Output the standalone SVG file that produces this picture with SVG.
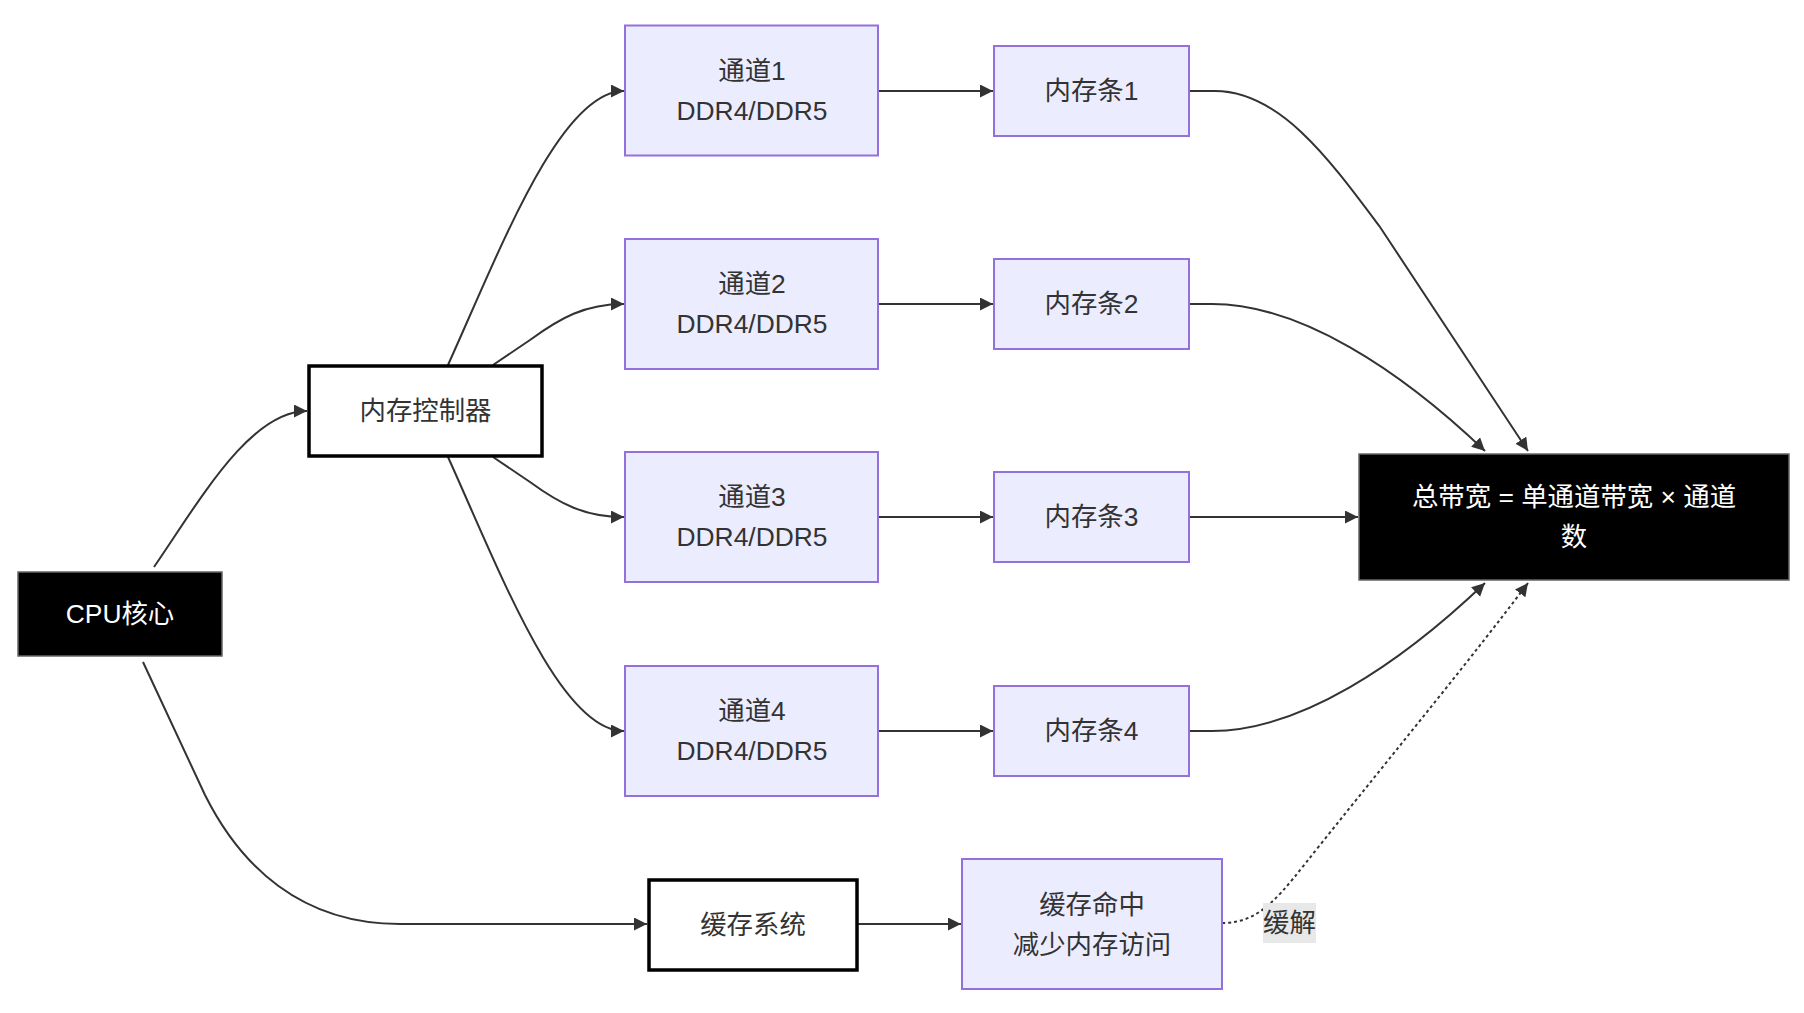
<svg xmlns="http://www.w3.org/2000/svg" width="1804" height="1013" viewBox="0 0 1804 1013">
<style>
text{font-family:"Liberation Sans","Noto Sans CJK SC",sans-serif;font-size:26.4px;fill:#333;text-anchor:middle;dominant-baseline:central}
.ch{fill:#ECECFF;stroke:#9370DB;stroke-width:2}
.wb{fill:#fff;stroke:#000;stroke-width:3.5}
.bb{fill:#000;stroke:#666;stroke-width:1.5}
.wt{fill:#fff}
.e{fill:none;stroke:#333;stroke-width:2;marker-end:url(#arr)}
.d{stroke-dasharray:3 3}
</style>
<defs>
<marker id="arr" markerUnits="userSpaceOnUse" markerWidth="14" markerHeight="14" refX="13" refY="6.5" orient="auto">
<path d="M0,0 L13,6.5 L0,13 z" fill="#333"/>
</marker>
</defs>
<rect width="1804" height="1013" fill="#fff"/>
<g id="edges">
<path class="e" d="M154,567 C200,500 250,411 307,411"/>
<path class="e" d="M143,662 L205,795 C240,865 300,924 400,924 L647,924"/>
<path class="e" d="M448,365 C500,250 560,91 624,91"/>
<path class="e" d="M493,365 L530,340 C560,318 585,304 624,304"/>
<path class="e" d="M493,457 L530,482 C560,504 585,517 624,517"/>
<path class="e" d="M448,457 C500,572 560,731 624,731"/>
<path class="e" d="M878,91 L993,91"/>
<path class="e" d="M878,304 L993,304"/>
<path class="e" d="M878,517 L993,517"/>
<path class="e" d="M878,731 L993,731"/>
<path class="e" d="M857,924 L961,924"/>
<path class="e" d="M1189,91 L1215,91 C1280,91 1330,160 1380,227 L1528,451"/>
<path class="e" d="M1189,304 L1212,304 C1300,304 1400,370 1485,451"/>
<path class="e" d="M1189,517 L1358,517"/>
<path class="e" d="M1189,731 L1212,731 C1300,731 1400,664 1485,583"/>
<path class="e d" d="M1222,923 C1262,923 1280,895 1320,845 C1400,745 1470,660 1528,583"/>
</g>
<g id="edge-label">
<rect x="1263" y="903" width="53" height="40" fill="#e8e8e8"/>
<text x="1289.5" y="923">缓解</text>
</g>
<g id="cpu">
<rect class="bb" x="18" y="572" width="204" height="84"/>
<text class="wt" x="120" y="614">CPU核心</text>
</g>
<g id="controller">
<rect class="wb" x="309" y="366" width="233" height="90"/>
<text x="425.5" y="411">内存控制器</text>
</g>
<g id="ch1">
<rect class="ch" x="625" y="25.5" width="253" height="130"/>
<text x="752" y="71">通道1</text>
<text x="752" y="111">DDR4/DDR5</text>
</g>
<g id="ch2">
<rect class="ch" x="625" y="239" width="253" height="130"/>
<text x="752" y="284">通道2</text>
<text x="752" y="324">DDR4/DDR5</text>
</g>
<g id="ch3">
<rect class="ch" x="625" y="452" width="253" height="130"/>
<text x="752" y="497">通道3</text>
<text x="752" y="537">DDR4/DDR5</text>
</g>
<g id="ch4">
<rect class="ch" x="625" y="666" width="253" height="130"/>
<text x="752" y="711">通道4</text>
<text x="752" y="751">DDR4/DDR5</text>
</g>
<g id="mem1">
<rect class="ch" x="994" y="46" width="195" height="90"/>
<text x="1091.5" y="91">内存条1</text>
</g>
<g id="mem2">
<rect class="ch" x="994" y="259" width="195" height="90"/>
<text x="1091.5" y="304">内存条2</text>
</g>
<g id="mem3">
<rect class="ch" x="994" y="472" width="195" height="90"/>
<text x="1091.5" y="517">内存条3</text>
</g>
<g id="mem4">
<rect class="ch" x="994" y="686" width="195" height="90"/>
<text x="1091.5" y="731">内存条4</text>
</g>
<g id="cache">
<rect class="wb" x="649" y="880" width="208" height="90"/>
<text x="753" y="925">缓存系统</text>
</g>
<g id="cachehit">
<rect class="ch" x="962" y="859" width="260" height="130"/>
<text x="1092" y="905">缓存命中</text>
<text x="1092" y="945">减少内存访问</text>
</g>
<g id="total">
<rect class="bb" x="1359" y="454" width="430" height="126"/>
<text class="wt" x="1574" y="497">总带宽 = 单通道带宽 × 通道</text>
<text class="wt" x="1574" y="537">数</text>
</g>
</svg>
